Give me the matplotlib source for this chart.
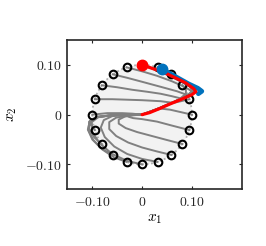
import matplotlib
matplotlib.use("Agg")
import matplotlib.pyplot as plt
from matplotlib.patches import Circle

plt.rcParams["mathtext.fontset"] = "cm"
plt.rcParams["font.family"] = ["DejaVu Serif"]

# gray trajectories, one per initial state on the circle (label = angle in deg)
traj_0 = [(0.100, 0.000), (0.078, 0.005), (0.056, 0.010), (0.038, 0.012), (0.020, 0.007), (0.0, 0.0)]
traj_18 = [(0.095, 0.031), (0.078, 0.027), (0.060, 0.023), (0.040, 0.015), (0.020, 0.007), (0.0, 0.0)]
traj_36 = [(0.081, 0.059), (0.088, 0.050), (0.088, 0.042), (0.075, 0.031), (0.050, 0.019), (0.025, 0.009), (0.0, 0.0)]
traj_54 = [(0.059, 0.081), (0.080, 0.070), (0.096, 0.057), (0.100, 0.047), (0.090, 0.038), (0.065, 0.026),
           (0.035, 0.013), (0.0, 0.0)]
traj_72 = [(0.031, 0.095), (0.060, 0.080), (0.085, 0.066), (0.100, 0.055), (0.104, 0.047), (0.095, 0.039),
           (0.065, 0.026), (0.035, 0.013), (0.0, 0.0)]
traj_90 = [(0.0, 0.100), (0.040, 0.085), (0.075, 0.068), (0.098, 0.055), (0.104, 0.047), (0.095, 0.039),
           (0.065, 0.026), (0.035, 0.013), (0.0, 0.0)]
traj_108 = [(-0.031, 0.095), (0.0, 0.087), (0.030, 0.078), (0.060, 0.067), (0.085, 0.056), (0.100, 0.047),
            (0.092, 0.038), (0.065, 0.026), (0.035, 0.013), (0.0, 0.0)]
traj_126 = [(-0.059, 0.081), (-0.030, 0.074), (0.0, 0.066), (0.037, 0.056), (0.070, 0.047), (0.092, 0.039),
            (0.070, 0.028), (0.035, 0.013), (0.0, 0.0)]
traj_144 = [(-0.081, 0.059), (-0.050, 0.055), (-0.020, 0.050), (0.010, 0.046), (0.037, 0.042), (0.060, 0.037),
            (0.080, 0.032), (0.050, 0.019), (0.025, 0.008), (0.0, 0.0)]
traj_162 = [(-0.095, 0.031), (-0.060, 0.031), (-0.030, 0.030), (0.0, 0.029), (0.037, 0.027), (0.060, 0.024),
            (0.035, 0.013), (0.0, 0.0)]
traj_180 = [(-0.100, 0.0), (-0.070, 0.003), (-0.040, 0.003), (-0.020, 0.002), (0.0, 0.0)]
traj_198 = [(-0.095, -0.031), (-0.103, -0.021), (-0.103, -0.011), (-0.090, -0.004), (-0.060, -0.001),
            (-0.030, 0.0), (0.0, 0.0)]
traj_216 = [(-0.081, -0.059), (-0.096, -0.046), (-0.106, -0.029), (-0.106, -0.014), (-0.092, -0.005),
            (-0.060, -0.001), (-0.030, 0.0), (0.0, 0.0)]
traj_234 = [(-0.059, -0.081), (-0.080, -0.069), (-0.098, -0.051), (-0.108, -0.031), (-0.106, -0.014),
            (-0.090, -0.005), (-0.060, -0.001), (-0.030, 0.0), (0.0, 0.0)]
traj_252 = [(-0.031, -0.095), (-0.056, -0.086), (-0.080, -0.070), (-0.100, -0.050), (-0.109, -0.030),
            (-0.105, -0.013), (-0.088, -0.005), (-0.060, -0.001), (-0.030, 0.0), (0.0, 0.0)]
traj_270 = [(0.0, -0.100), (-0.030, -0.093), (-0.060, -0.079), (-0.085, -0.058), (-0.100, -0.035),
            (-0.101, -0.015), (-0.088, -0.005), (-0.060, -0.001), (-0.030, 0.0), (0.0, 0.0)]
traj_288 = [(0.031, -0.095), (0.0, -0.089), (-0.030, -0.079), (-0.056, -0.064), (-0.075, -0.045),
            (-0.083, -0.026), (-0.077, -0.011), (-0.060, -0.003), (-0.030, -0.001), (0.0, 0.0)]
traj_306 = [(0.059, -0.081), (0.030, -0.074), (0.0, -0.066), (-0.028, -0.056), (-0.052, -0.043),
            (-0.066, -0.029), (-0.066, -0.015), (-0.052, -0.006), (-0.028, -0.002), (0.0, 0.0)]
traj_324 = [(0.081, -0.059), (0.050, -0.051), (0.020, -0.043), (-0.010, -0.035), (-0.033, -0.027),
            (-0.047, -0.018), (-0.047, -0.010), (-0.035, -0.004), (-0.018, -0.001), (0.0, 0.0)]
traj_342 = [(0.095, -0.031), (0.060, -0.022), (0.030, -0.014), (0.0, -0.009), (-0.018, -0.007),
            (-0.028, -0.004), (-0.024, -0.001), (-0.012, 0.0), (0.0, 0.0)]

# highlighted trajectories
red_traj = [(0.0, 0.100), (0.046, 0.084), (0.087, 0.064), (0.104, 0.052), (0.108, 0.046), (0.100, 0.040),
            (0.077, 0.030), (0.055, 0.021), (0.037, 0.013), (0.015, 0.004), (0.0, 0.0)]
blue_traj = [(0.039, 0.092), (0.066, 0.077), (0.093, 0.062), (0.112, 0.053), (0.120, 0.047), (0.113, 0.042)]

circle_radius = 0.1
xticks = [-0.1, 0.0, 0.1]
xtick_labels = [r"$-0.10$", r"$0$", r"$0.10$"]
yticks = [-0.1, 0.0, 0.1]
ytick_labels = [r"$-0.10$", r"$0$", r"$0.10$"]

gray_trajs = [traj_0, traj_18, traj_36, traj_54, traj_72, traj_90, traj_108, traj_126, traj_144, traj_162,
              traj_180, traj_198, traj_216, traj_234, traj_252, traj_270, traj_288, traj_306, traj_324, traj_342]

fig = plt.figure(figsize=(2.66, 2.46), dpi=100)
ax = fig.add_axes([0.253, 0.2305, 0.656, 0.607])

ax.add_patch(Circle((0, 0), circle_radius, facecolor="#f2f2f2", edgecolor="none", zorder=1))
ax.add_patch(Circle((0, 0), circle_radius, facecolor="none", edgecolor="#b0b0b0",
                    linestyle=(0, (1, 1.5)), linewidth=1.3, zorder=2))

for tr in gray_trajs:
    xs = [p[0] for p in tr]
    ys = [p[1] for p in tr]
    ax.plot(xs, ys, color="#808080", lw=1.4, zorder=3, solid_joinstyle="round")

starts_x = [tr[0][0] for tr in gray_trajs]
starts_y = [tr[0][1] for tr in gray_trajs]
ax.plot(starts_x, starts_y, ls="none", marker="o", ms=5.5, mfc="none", mec="black", mew=1.5, zorder=4)

ax.plot([p[0] for p in blue_traj], [p[1] for p in blue_traj], color="#0072BD", lw=3.4,
        solid_joinstyle="round", solid_capstyle="round", zorder=5)
ax.plot([p[0] for p in red_traj], [p[1] for p in red_traj], color="#FF0000", lw=2.3,
        solid_joinstyle="round", solid_capstyle="round", zorder=6)
ax.plot(blue_traj[0][0], blue_traj[0][1], marker="o", ms=7.5, color="#0072BD", zorder=7)
ax.plot(red_traj[0][0], red_traj[0][1], marker="o", ms=7.5, color="#FF0000", zorder=7)

ax.set_xlim(-0.15, 0.2)
ax.set_ylim(-0.15, 0.15)
ax.set_aspect("equal")
ax.set_xticks(xticks)
ax.set_xticklabels(xtick_labels)
ax.set_yticks(yticks)
ax.set_yticklabels(ytick_labels)
ax.tick_params(direction="in", length=2.5, width=0.8, top=True, right=True, labelsize=10,
               pad=4, colors="#262626")
for s in ax.spines.values():
    s.set_linewidth(1.2)
    s.set_color("#262626")
ax.set_xlabel(r"$x_1$", fontsize=11, labelpad=2)
ax.set_ylabel(r"$x_2$", fontsize=11, labelpad=4)

fig.savefig("out.png", dpi=100)
